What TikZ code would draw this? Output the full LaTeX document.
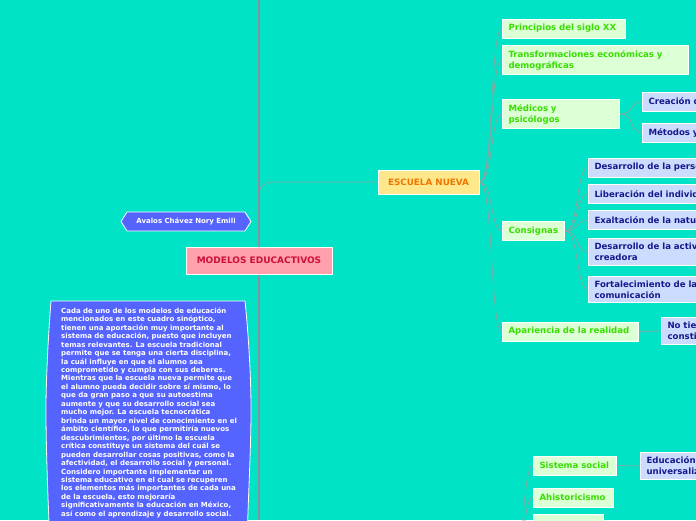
\documentclass[tikz,border=0pt]{standalone}
\usepackage{fontspec}
\setmainfont{DejaVu Sans}
\usetikzlibrary{shapes.symbols,backgrounds}
\definecolor{fondo}{RGB}{0,227,198}
\definecolor{ejecol}{RGB}{142,142,158}
\definecolor{enlacecol}{RGB}{128,168,164}
\definecolor{raizfill}{RGB}{255,160,172}
\definecolor{raiztext}{RGB}{204,16,56}
\definecolor{nuevafill}{RGB}{255,232,140}
\definecolor{nuevatext}{RGB}{238,118,0}
\definecolor{verdefill}{RGB}{220,255,214}
\definecolor{verdetext}{RGB}{56,222,0}
\definecolor{azulfill}{RGB}{204,220,255}
\definecolor{azultext}{RGB}{24,24,140}
\definecolor{violeta}{RGB}{85,100,255}
\tikzset{
  caja/.style={draw=white,line width=1pt,inner xsep=6pt,inner ysep=4.5pt,minimum height=19pt,align=left,font=\bfseries\fontsize{8.6}{11}\selectfont},
  rama/.style={caja,fill=verdefill,text=verdetext,anchor=west},
  hoja/.style={caja,fill=azulfill,text=azultext,anchor=west},
  enlace/.style={draw=enlacecol,line width=.8pt},
}
\begin{document}
\begin{tikzpicture}[x=1pt,y=-1pt,line cap=round,line join=round]
  \useasboundingbox (0,0) rectangle (696,520);
  \clip (0,0) rectangle (696,520);

  % main axis and root
  \coordinate (ejeA) at (259,0);
  \coordinate (ejeB) at (259,520);
  \node[caja,fill=raizfill,text=raiztext,minimum width=146pt,minimum height=27pt,align=center,font=\bfseries\fontsize{9}{11}\selectfont] (raiz) at (259,260.5) {MODELOS EDUCACTIVOS};
  \node[caja,fill=nuevafill,text=nuevatext,minimum width=101pt,minimum height=24pt,align=center,font=\bfseries\fontsize{8.8}{11}\selectfont] (nueva) at (428.5,182) {ESCUELA NUEVA};

  % Escuela nueva: branches
  \node[rama,text width=111pt] (principios) at (502,28.5) {Principios del siglo XX};
  \node[rama,text width=174pt] (transf) at (502,60) {Transformaciones económicas y\\demográficas};
  \node[rama,text width=105pt] (medicos) at (502,114) {Médicos y\\psicólogos};
  \node[rama,text width=50pt] (consignas) at (502,231) {Consignas};
  \node[rama,text width=124pt] (apariencia) at (502,331.5) {Apariencia de la realidad};

  \node[hoja,text width=150pt] (creacion) at (642,101.5) {Creación de};
  \node[hoja,text width=150pt] (metodos) at (642,132.5) {Métodos y};

  \node[hoja,text width=150pt] (c1) at (588,167.5) {Desarrollo de la personalidad};
  \node[hoja,text width=150pt] (c2) at (588,194) {Liberación del individuo};
  \node[hoja,text width=150pt] (c3) at (588,220) {Exaltación de la naturaleza};
  \node[hoja,text width=150pt] (c4) at (588,252) {Desarrollo de la actividad\\creadora};
  \node[hoja,text width=150pt] (c5) at (588,289.5) {Fortalecimiento de la\\comunicación};

  \node[hoja,text width=150pt] (notiene) at (661,331) {No tiene\\constitución};

  % branches of the next model, below the picture
  \coordinate (abajo) at (510,590);
  \node[rama,text width=71pt] (sistema) at (533,465.5) {Sistema social};
  \node[rama,text width=68pt] (ahist) at (533,497.5) {Ahistoricismo};
  \node[rama,text width=58pt] (tercero) at (533,523.5) {};
  \node[hoja,text width=150pt] (educacion) at (640,466) {Educación\\universalizada};

  % author and reflection
  \node[shape=signal,signal to=west and east,signal pointer angle=115,draw=white,line width=.8pt,fill=violeta,text=white,minimum width=130pt,minimum height=19pt,inner xsep=4pt,font=\bfseries\fontsize{7}{8}\selectfont] (autora) at (186,221.5) {Avalos Chávez Nory Emili};

  \fill[violeta,draw=white,line width=.8pt] (51,301) -- (245,301) .. controls (249,340) and (251,380) .. (251,410) .. controls (251,450) and (248,500) .. (247,545) -- (50,545) .. controls (48,500) and (46,450) .. (46,410) .. controls (46,380) and (48,340) .. (51,301) -- cycle;
  \node[anchor=north west,inner sep=0pt,text=white,align=left,font=\bfseries\fontsize{7}{8.46}\selectfont] (reflexion) at (61,307.5) {Cada de uno de los modelos de educación\\
mencionados en este cuadro sinóptico,\\
tienen una aportación muy importante al\\
sistema de educación, puesto que incluyen\\
temas relevantes. La escuela tradicional\\
permite que se tenga una cierta disciplina,\\
la cuál influye en que el alumno sea\\
comprometido y cumpla con sus deberes.\\
Mientras que la escuela nueva permite que\\
el alumno pueda decidir sobre sí mismo, lo\\
que da gran paso a que su autoestima\\
aumente y que su desarrollo social sea\\
mucho mejor. La escuela tecnocrática\\
brinda un mayor nivel de conocimiento en el\\
ámbito científico, lo que permitiría nuevos\\
descubrimientos, por último la escuela\\
crítica constituye un sistema del cuál se\\
pueden desarrollar cosas positivas, como la\\
afectividad, el desarrollo social y personal.\\
Considero importante implementar un\\
sistema educativo en el cual se recuperen\\
los elementos más importantes de cada una\\
de la escuela, esto mejoraría\\
significativamente la educación en México,\\
así como el aprendizaje y desarrollo social.};

  % connectors and axis behind the boxes
  \begin{scope}[on background layer]
    \fill[fondo] (0,0) rectangle (696,520);
    \draw[enlace,rounded corners=12pt] (raiz.north) |- (nueva.west);
    \foreach \n in {principios,transf,medicos,consignas,apariencia}
      \draw[enlace] (nueva.east) .. controls +(14,0) and +(-12,0) .. (\n.west);
    \foreach \n in {creacion,metodos}
      \draw[enlace] (medicos.east) .. controls +(14,0) and +(-12,0) .. (\n.west);
    \foreach \n in {c1,c2,c3,c4,c5}
      \draw[enlace] (consignas.east) .. controls +(14,0) and +(-12,0) .. (\n.west);
    \draw[enlace] (apariencia.east) -- (notiene.west);
    \foreach \n in {sistema,ahist,tercero}
      \draw[enlace] (abajo) .. controls +(14,0) and +(-12,0) .. (\n.west);
    \draw[enlace] (sistema.east) -- (educacion.west);
    \draw[ejecol,line width=2.5pt] (ejeA) -- (ejeB);
  \end{scope}
\end{tikzpicture}
\end{document}
